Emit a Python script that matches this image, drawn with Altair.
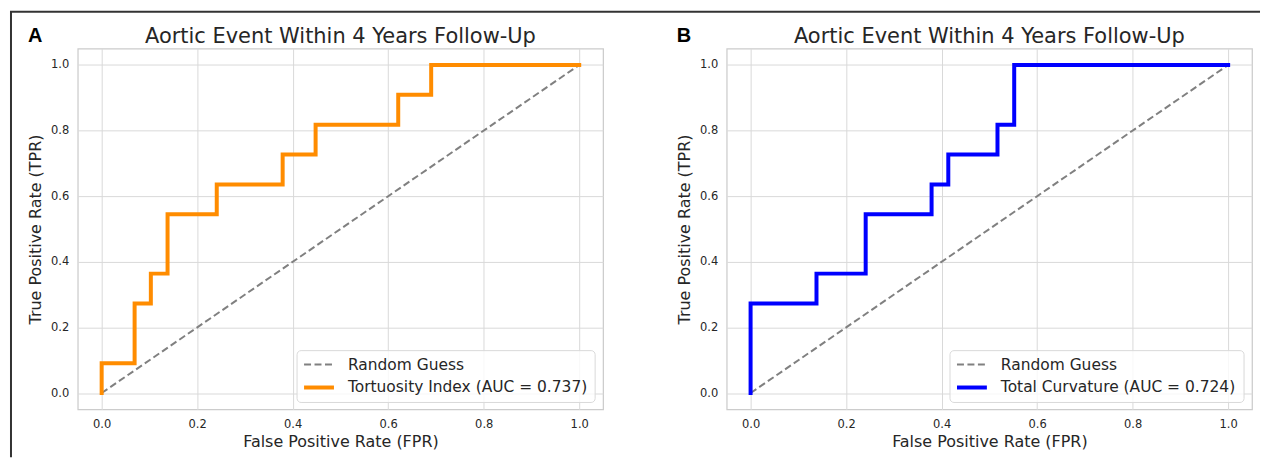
import altair as alt
import pandas as pd

# ---- data ----
fpr_a = [0.0, 0.0, 0.069, 0.069, 0.103, 0.103, 0.138, 0.138, 0.241, 0.241,
         0.379, 0.379, 0.448, 0.448, 0.621, 0.621, 0.690, 0.690, 1.0]
tpr_a = [0.0, 0.091, 0.091, 0.273, 0.273, 0.364, 0.364, 0.545, 0.545, 0.636,
         0.636, 0.727, 0.727, 0.818, 0.818, 0.909, 0.909, 1.0, 1.0]
fpr_b = [0.0, 0.0, 0.138, 0.138, 0.241, 0.241, 0.379, 0.379, 0.414, 0.414,
         0.517, 0.517, 0.552, 0.552, 1.0]
tpr_b = [0.0, 0.273, 0.273, 0.364, 0.364, 0.545, 0.545, 0.636, 0.636, 0.727,
         0.727, 0.818, 0.818, 1.0, 1.0]
diag_x = [0.0, 1.0]
diag_y = [0.0, 1.0]
tick_values = [0.0, 0.2, 0.4, 0.6, 0.8, 1.0]

title_text = "Aortic Event Within 4 Years Follow-Up"
x_title = "False Positive Rate (FPR)"
y_title = "True Positive Rate (TPR)"
random_label = "Random Guess"
label_a = "Tortuosity Index (AUC = 0.737)"
label_b = "Total Curvature (AUC = 0.724)"
panel_letters = ["A", "B"]

FONT = "DejaVu Sans"
TEXT = "#262626"
W, H = 527, 362
DASH = [7, 3.5]


def panel(letter, fpr, tpr, color, label, leg_x, with_border):
    roc = pd.DataFrame({"fpr": fpr, "tpr": tpr, "i": list(range(len(fpr)))})
    diag = pd.DataFrame({"fpr": diag_x, "tpr": diag_y})
    one = pd.DataFrame({"k": [1]})

    xs = alt.Scale(domain=[-0.05, 1.05], nice=False, zero=False)
    ys = alt.Scale(domain=[-0.05, 1.05], nice=False, zero=False)
    xaxis = alt.Axis(values=tick_values, format=".1f", title=x_title, titlePadding=4)
    yaxis = alt.Axis(values=tick_values, format=".1f", title=y_title, titlePadding=7)

    diag_line = alt.Chart(diag).mark_line(
        color="#808080", strokeDash=DASH, strokeWidth=2
    ).encode(x=alt.X("fpr:Q", scale=xs, axis=xaxis), y=alt.Y("tpr:Q", scale=ys, axis=yaxis))

    roc_line = alt.Chart(roc).mark_line(
        color=color, strokeWidth=4, strokeCap="square"
    ).encode(x="fpr:Q", y="tpr:Q", order="i:Q")

    box = alt.Chart(one).mark_rect(
        fill="white", fillOpacity=0.8, stroke="#d9d9d9", strokeWidth=1, cornerRadius=4
    ).encode(x=alt.value(leg_x), x2=alt.value(519), y=alt.value(303), y2=alt.value(355))

    s1 = alt.Chart(one).mark_rule(color="#808080", strokeDash=DASH, strokeWidth=2).encode(
        x=alt.value(leg_x + 7), x2=alt.value(leg_x + 37), y=alt.value(317))
    s2 = alt.Chart(one).mark_rule(color=color, strokeWidth=4).encode(
        x=alt.value(leg_x + 7), x2=alt.value(leg_x + 37), y=alt.value(340))
    t1 = alt.Chart(one).mark_text(align="left", baseline="middle", font=FONT, fontSize=15.5,
                                  color=TEXT).encode(
        x=alt.value(leg_x + 51), y=alt.value(317), text=alt.value(random_label))
    t2 = alt.Chart(one).mark_text(align="left", baseline="middle", font=FONT, fontSize=15.5,
                                  color=TEXT).encode(
        x=alt.value(leg_x + 51), y=alt.value(340), text=alt.value(label))

    let = alt.Chart(one).mark_text(align="left", baseline="alphabetic", font="Liberation Sans",
                                   fontSize=20, fontWeight="bold", color="black").encode(
        x=alt.value(-50), y=alt.value(-7), text=alt.value(letter))

    ttl = alt.Chart(one).mark_text(align="center", baseline="alphabetic", font=FONT,
                                   fontSize=21, color=TEXT).encode(
        x=alt.value(W / 2), y=alt.value(-6), text=alt.value(title_text))

    layers = [diag_line, roc_line, box, s1, s2, t1, t2, let, ttl]
    if with_border:
        left = alt.Chart(one).mark_rule(color="#333333", strokeWidth=2).encode(
            x=alt.value(-67), y=alt.value(-37), y2=alt.value(410))
        top = alt.Chart(one).mark_rule(color="#333333", strokeWidth=2).encode(
            x=alt.value(-68), x2=alt.value(1186), y=alt.value(-37))
        layers += [left, top]

    return alt.layer(*layers).properties(width=W, height=H)


pa = panel(panel_letters[0], fpr_a, tpr_a, "#ff8c00", label_a, 220, True)
pb = panel(panel_letters[1], fpr_b, tpr_b, "#0000ff", label_b, 224, False)

chart = alt.hconcat(pa, pb, spacing=124, bounds="flush").properties(
    padding={"left": 0, "top": 1, "right": 0, "bottom": 0},
    background="white",
).configure_view(
    stroke="#cccccc", strokeWidth=1.25
).configure_axis(
    grid=True, gridColor="#d9d9d9", gridWidth=1, domain=False, ticks=False,
    labelFont=FONT, labelFontSize=11.5, labelColor=TEXT, labelPadding=9,
    titleFont=FONT, titleFontSize=16, titleFontWeight="normal", titleColor=TEXT,
)

chart.save("out.html", embed_options={"renderer": "svg", "actions": False})
